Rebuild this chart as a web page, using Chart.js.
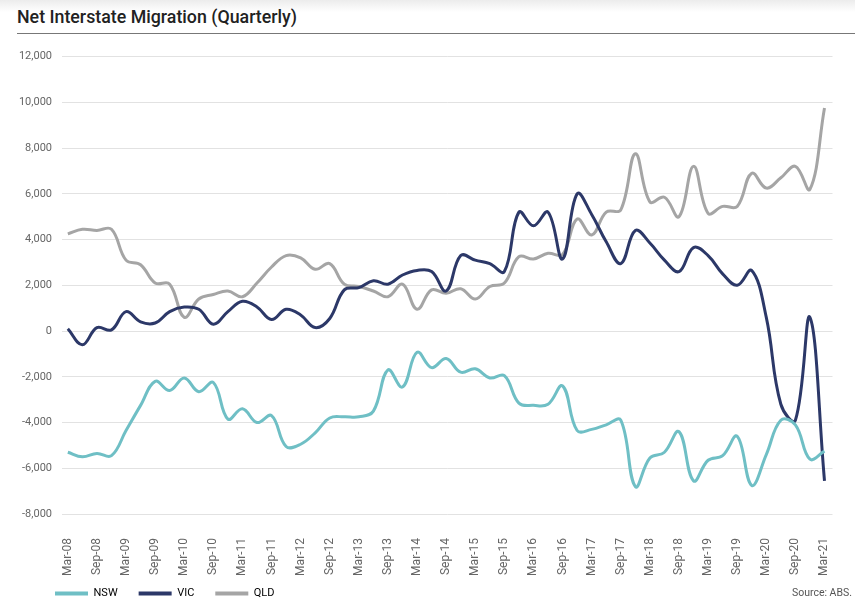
<!DOCTYPE html>
<html lang="en">
<head>
    <meta charset="UTF-8">
    <title>Net Interstate Migration (Quarterly)</title>
    <script src="https://cdn.jsdelivr.net/npm/chart.js"></script>
    <style>
        body {
            margin: 0;
            width: 855px;
            height: 607px;
            overflow: hidden;
            background: linear-gradient(#ececec 0px, #ffffff 12px);
            font-family: Roboto, sans-serif;
            position: relative;
        }
        #titulo {
            position: absolute;
            left: 17px;
            top: 6px;
            right: 0;
            padding-bottom: 6px;
            border-bottom: 1px solid #777;
            font-size: 17.8px;
            font-weight: 500;
            color: #222;
        }
        #grafico {
            position: absolute;
            left: 0;
            top: 40px;
            width: 855px;
            height: 567px;
        }
        #fonte {
            position: absolute;
            right: 3px;
            top: 586px;
            font-size: 10.5px;
            color: #555;
        }
    </style>
</head>
<body>
    <div id="titulo">Net Interstate Migration (Quarterly)</div>
    <div id="grafico">
        <canvas id="chartMigracao"></canvas>
    </div>
    <div id="fonte">Source: ABS.</div>

<script>
    // trimestres (Mar-08 ate Mar-21)
    const trimestres = [
        'Mar-08', 'Jun-08', 'Sep-08', 'Dec-08', 'Mar-09', 'Jun-09', 'Sep-09', 'Dec-09',
        'Mar-10', 'Jun-10', 'Sep-10', 'Dec-10', 'Mar-11', 'Jun-11', 'Sep-11', 'Dec-11',
        'Mar-12', 'Jun-12', 'Sep-12', 'Dec-12', 'Mar-13', 'Jun-13', 'Sep-13', 'Dec-13',
        'Mar-14', 'Jun-14', 'Sep-14', 'Dec-14', 'Mar-15', 'Jun-15', 'Sep-15', 'Dec-15',
        'Mar-16', 'Jun-16', 'Sep-16', 'Dec-16', 'Mar-17', 'Jun-17', 'Sep-17', 'Dec-17',
        'Mar-18', 'Jun-18', 'Sep-18', 'Dec-18', 'Mar-19', 'Jun-19', 'Sep-19', 'Dec-19',
        'Mar-20', 'Jun-20', 'Sep-20', 'Dec-20', 'Mar-21'
    ];

    const nsw = [
        -5300, -5500, -5350, -5450, -4350, -3250, -2200, -2600, -2050, -2650, -2250, -3850,
        -3400, -4000, -3700, -5050, -4950, -4450, -3800, -3750, -3750, -3500, -1700, -2450,
        -930, -1600, -1200, -1800, -1650, -2050, -1950, -3150, -3250, -3200, -2400, -4350,
        -4300, -4100, -3900, -6800, -5550, -5300, -4400, -6550, -5650, -5450, -4600, -6750,
        -5400, -3900, -4100, -5600, -5250
    ];

    const vic = [
        100, -600, 150, 50, 850, 400, 350, 850, 1050, 950, 300, 850,
        1300, 1050, 500, 950, 700, 150, 550, 1800, 1900, 2200, 2050, 2450,
        2650, 2600, 1750, 3300, 3100, 2950, 2600, 5200, 4600, 5200, 3150, 6000,
        5100, 3900, 2950, 4400, 3850, 3100, 2600, 3650, 3300, 2500, 2000, 2650,
        600, -3200, -3900, 600, -6550
    ];

    const qld = [
        4250, 4450, 4400, 4450, 3100, 2900, 2100, 2050, 600, 1400, 1600, 1750,
        1500, 2100, 2800, 3300, 3200, 2700, 2950, 2050, 1950, 1750, 1500, 2050,
        950, 1800, 1650, 1850, 1400, 1950, 2100, 3250, 3150, 3400, 3350, 4900,
        4200, 5200, 5300, 7750, 5650, 5850, 5000, 7200, 5150, 5450, 5450, 6900,
        6250, 6700, 7200, 6200, 9750
    ];

    const eixoYTicks = [-8000, -6000, -4000, -2000, 0, 2000, 4000, 6000, 8000, 10000, 12000];

    const estados = ['NSW', 'VIC', 'QLD'];
    const cores = ['#6fbfc5', '#2c3868', '#a5a5a5'];

    Chart.defaults.font.family = 'Roboto';
    Chart.defaults.font.size = 11;
    Chart.defaults.color = '#666';

    function serie(valores) {
        return valores.map((v, i) => ({ x: i, y: v }));
    }

    // legenda mais baixa e deslocada para a direita, como no original
    const ajusteLegenda = {
        id: 'ajusteLegenda',
        beforeLayout(chart) {
            const lg = chart.legend;
            if (lg && !lg._ajustado) {
                const fitOriginal = lg.fit.bind(lg);
                lg.fit = function () {
                    fitOriginal();
                    this.height = 31;
                };
                lg._ajustado = true;
            }
        },
        afterLayout(chart) {
            chart.legend.left = 34;
            chart.legend.top = 527;
        }
    };

    const ctx = document.getElementById('chartMigracao');

    const chartMigracao = new Chart(ctx, {
        type: 'line',
        data: {
            datasets: [nsw, vic, qld].map((valores, i) => ({
                label: estados[i],
                data: serie(valores),
                borderColor: cores[i],
                backgroundColor: cores[i],
                borderWidth: 3,
                pointRadius: 0,
                tension: 0.4
            }))
        },
        options: {
            responsive: true,
            maintainAspectRatio: false,
            animation: false,
            layout: {
                padding: { top: 15, right: 10, left: 0, bottom: 0 }
            },
            scales: {
                x: {
                    type: 'linear',
                    min: -0.4,
                    max: 52.55,
                    afterBuildTicks: (s) => {
                        s.ticks = trimestres
                            .map((t, i) => ({ value: i }))
                            .filter(t => t.value % 2 === 0);
                    },
                    afterFit: (s) => { s.height = 62; },
                    grid: { display: false },
                    border: { display: false },
                    ticks: {
                        autoSkip: false,
                        minRotation: 90,
                        maxRotation: 90,
                        padding: 16,
                        color: '#666',
                        font: { size: 12 },
                        callback: (v) => trimestres[v]
                    }
                },
                y: {
                    min: -8000,
                    max: 12000,
                    afterBuildTicks: (s) => {
                        s.ticks = eixoYTicks.map(v => ({ value: v }));
                    },
                    afterFit: (s) => { s.width = 62; },
                    grid: {
                        color: '#e2e2e2',
                        drawTicks: false
                    },
                    border: { display: false },
                    ticks: {
                        padding: 10,
                        color: '#666',
                        callback: (v) => v.toLocaleString('en-US')
                    }
                }
            },
            plugins: {
                tooltip: { enabled: false },
                legend: {
                    position: 'bottom',
                    align: 'start',
                    labels: {
                        boxWidth: 33,
                        boxHeight: 4,
                        padding: 21,
                        color: '#555',
                        generateLabels: (chart) => chart.data.datasets.map((d, i) => ({
                            text: d.label,
                            fillStyle: d.borderColor,
                            strokeStyle: d.borderColor,
                            lineWidth: 0,
                            hidden: false,
                            datasetIndex: i
                        }))
                    }
                }
            }
        },
        plugins: [ajusteLegenda]
    });
</script>
</body>
</html>
